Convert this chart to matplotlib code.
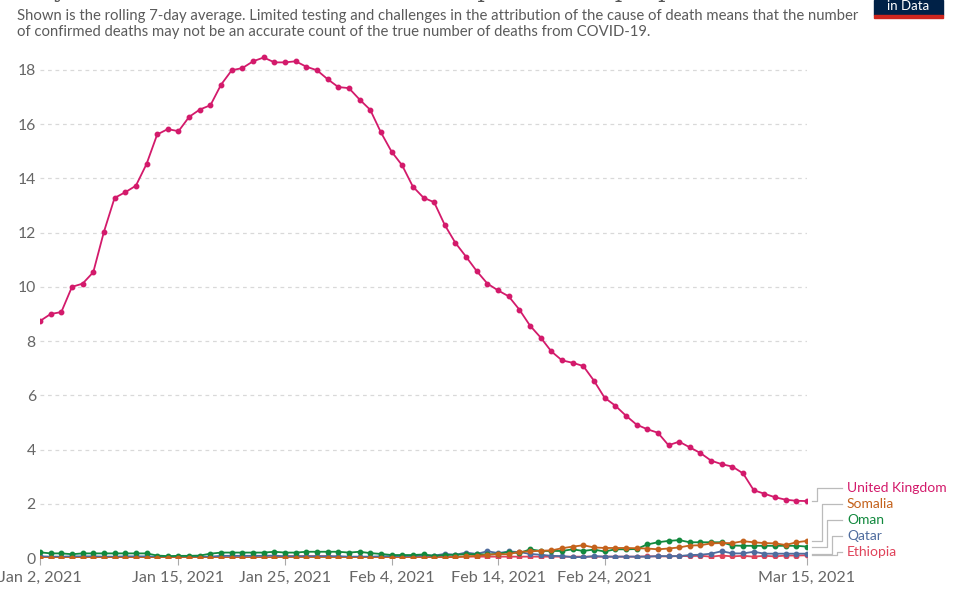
import numpy as np
import matplotlib
matplotlib.use("Agg")
import matplotlib.pyplot as plt
import matplotlib.dates as mdates
from matplotlib.patches import Rectangle

# daily new confirmed COVID-19 deaths per million, rolling 7-day average
dates = np.arange(np.datetime64("2021-01-02"), np.datetime64("2021-03-16"))

uk = [8.74, 9.00, 9.07, 10.00, 10.12, 10.54, 12.03, 13.28, 13.49, 13.73,
      14.53, 15.62, 15.82, 15.74, 16.27, 16.54, 16.70, 17.46, 17.99, 18.07,
      18.32, 18.46, 18.28, 18.28, 18.32, 18.12, 17.99, 17.66, 17.37, 17.33,
      16.91, 16.53, 15.70, 14.99, 14.48, 13.70, 13.29, 13.12, 12.28, 11.62,
      11.11, 10.58, 10.12, 9.87, 9.65, 9.16, 8.57, 8.13, 7.62, 7.29,
      7.20, 7.08, 6.54, 5.91, 5.62, 5.25, 4.92, 4.75, 4.62, 4.16,
      4.29, 4.08, 3.87, 3.59, 3.46, 3.37, 3.12, 2.50, 2.37, 2.24,
      2.15, 2.11, 2.10]

somalia = [0.0] * 38 + [
    0.00, 0.03, 0.06, 0.08, 0.12, 0.14, 0.14, 0.23, 0.24, 0.27,
    0.28, 0.36, 0.42, 0.47, 0.39, 0.37, 0.37, 0.37, 0.36, 0.35,
    0.32, 0.35, 0.39, 0.46, 0.47, 0.54, 0.55, 0.55, 0.62, 0.58,
    0.55, 0.54, 0.48, 0.58, 0.63]

oman = [0.21, 0.17, 0.17, 0.14, 0.17, 0.17, 0.17, 0.17, 0.17, 0.17, 0.17,
        0.09, 0.07, 0.08, 0.08, 0.09,
        0.16, 0.20, 0.20, 0.20, 0.20, 0.20, 0.23, 0.20, 0.20, 0.23, 0.23, 0.23, 0.23, 0.20, 0.23,
        0.18, 0.15, 0.11, 0.11, 0.11,
        0.13, 0.08, 0.11, 0.12, 0.14, 0.14, 0.13, 0.15, 0.22, 0.18,
        0.32, 0.26, 0.26, 0.26, 0.32, 0.26, 0.31, 0.24, 0.32, 0.32, 0.33,
        0.50, 0.58, 0.63, 0.66, 0.58, 0.58, 0.58, 0.58, 0.46, 0.45, 0.45, 0.45, 0.45, 0.45, 0.45, 0.42]

qatar = [0.06, 0.05, 0.05, 0.06, 0.06, 0.06, 0.05, 0.05, 0.06, 0.06, 0.06,
         0.04, 0.04, 0.03, 0.04, 0.04, 0.05,
         0.08, 0.08, 0.08, 0.08, 0.08, 0.09, 0.06, 0.06, 0.06, 0.06, 0.06, 0.06, 0.05, 0.05,
         0.05, 0.06, 0.07, 0.07, 0.08,
         0.09, 0.09, 0.15, 0.12, 0.20, 0.15, 0.25, 0.18, 0.24, 0.22,
         0.15, 0.12, 0.08, 0.07, 0.03, 0.03, 0.07, 0.05, 0.05, 0.05,
         0.05, 0.05, 0.07, 0.07, 0.07, 0.11, 0.12, 0.16, 0.25, 0.17,
         0.17, 0.23, 0.16, 0.16, 0.16, 0.16, 0.16]

ethiopia = [0.03] * 11 + [0.02] * 4 + [0.03] * 8 + \
    [0.07, 0.07, 0.07, 0.07, 0.07, 0.05] + [0.04] * 10 + [0.05, 0.05] + \
    [0.05] * 16 + [0.06, 0.06, 0.06, 0.07, 0.07, 0.08, 0.05, 0.09,
                   0.06, 0.08, 0.05, 0.08, 0.06, 0.09, 0.09, 0.10]

countries = ["United Kingdom", "Somalia", "Oman", "Qatar", "Ethiopia"]
series = [uk, somalia, oman, qatar, ethiopia]
colors = ["#d31a6b", "#c4621c", "#12893e", "#4f6c9e", "#e0435a"]

tick_dates = ["2021-01-02", "2021-01-15", "2021-01-25", "2021-02-04",
              "2021-02-14", "2021-02-24", "2021-03-15"]

plt.rcParams['font.family'] = ['Lato', 'DejaVu Sans']

fig = plt.figure(figsize=(9.6, 6), dpi=100)
ax = fig.add_axes([40 / 960, 42 / 600, 767 / 960, 504.3 / 600])

x = dates.astype("datetime64[D]").astype(object)
for name, vals, c in list(zip(countries, series, colors))[::-1]:
    ax.plot(x, vals, color=c, lw=1.3, marker="o", ms=3.2, mec=c, mfc=c, zorder=3)

ax.set_xlim(x[0], x[-1])
ax.set_ylim(0, 18.6)
ax.set_yticks(range(0, 19, 2))
ax.yaxis.grid(True, color="#d9d9d9", ls=(0, (3, 3)), lw=0.9)
ax.set_axisbelow(True)
for s in ax.spines.values():
    s.set_visible(False)

ticks = [np.datetime64(d).astype(object) for d in tick_dates]
ax.set_xticks(ticks)
ax.set_xticklabels([d.strftime("%b %-d, %Y") for d in ticks])
ax.tick_params(axis="x", length=5, color="#aaaaaa", labelsize=11.6, labelcolor="#666666", pad=4)
ax.tick_params(axis="y", length=0, labelsize=11.3, labelcolor="#666666", pad=3)

# end labels with stepped connectors
px = lambda p: (p - 40) / 767
label_y = [2.58, 1.99, 1.40, 0.81, 0.22]
vert_x = [817, 822, 827, 832, 837]
for name, vals, c, ly, vx in zip(countries, series, colors, label_y, vert_x):
    yend = vals[-1]
    tr = matplotlib.transforms.blended_transform_factory(ax.transAxes, ax.transData)
    ax.plot([px(812), px(vx), px(vx), px(842)], [yend, yend, ly, ly],
            transform=tr, color="#bbbbbb", lw=0.9, clip_on=False)
    ax.text(px(847), ly, name, transform=tr, color=c, fontsize=10, va="center", ha="left")

# title (cut off at top) and subtitle
fig.text(0.006, 1.0 + 3 / 600, "Daily new confirmed COVID-19 deaths per million people",
         family="DejaVu Serif", fontsize=17, color="#555555", va="baseline")
fig.text(17 / 960, 1 - 16 / 600,
         "Shown is the rolling 7-day average. Limited testing and challenges in the attribution of the cause of death means that the number",
         fontsize=10.7, color="#5b5b5b", va="center")
fig.text(17 / 960, 1 - 32 / 600,
         "of confirmed deaths may not be an accurate count of the true number of deaths from COVID-19.",
         fontsize=10.7, color="#5b5b5b", va="center")

# logo corner
fig.patches.append(Rectangle((874 / 960, 1 - 15 / 600), 69 / 960, 15 / 600,
                             transform=fig.transFigure, color="#002147"))
fig.patches.append(Rectangle((874 / 960, 1 - 18 / 600), 69 / 960, 3 / 600,
                             transform=fig.transFigure, color="#ce261e"))
fig.text(908.5 / 960, 1 - 6 / 600, "in Data", color="white", fontsize=9.5, ha="center", va="center")

fig.savefig("out.png", dpi=100)
